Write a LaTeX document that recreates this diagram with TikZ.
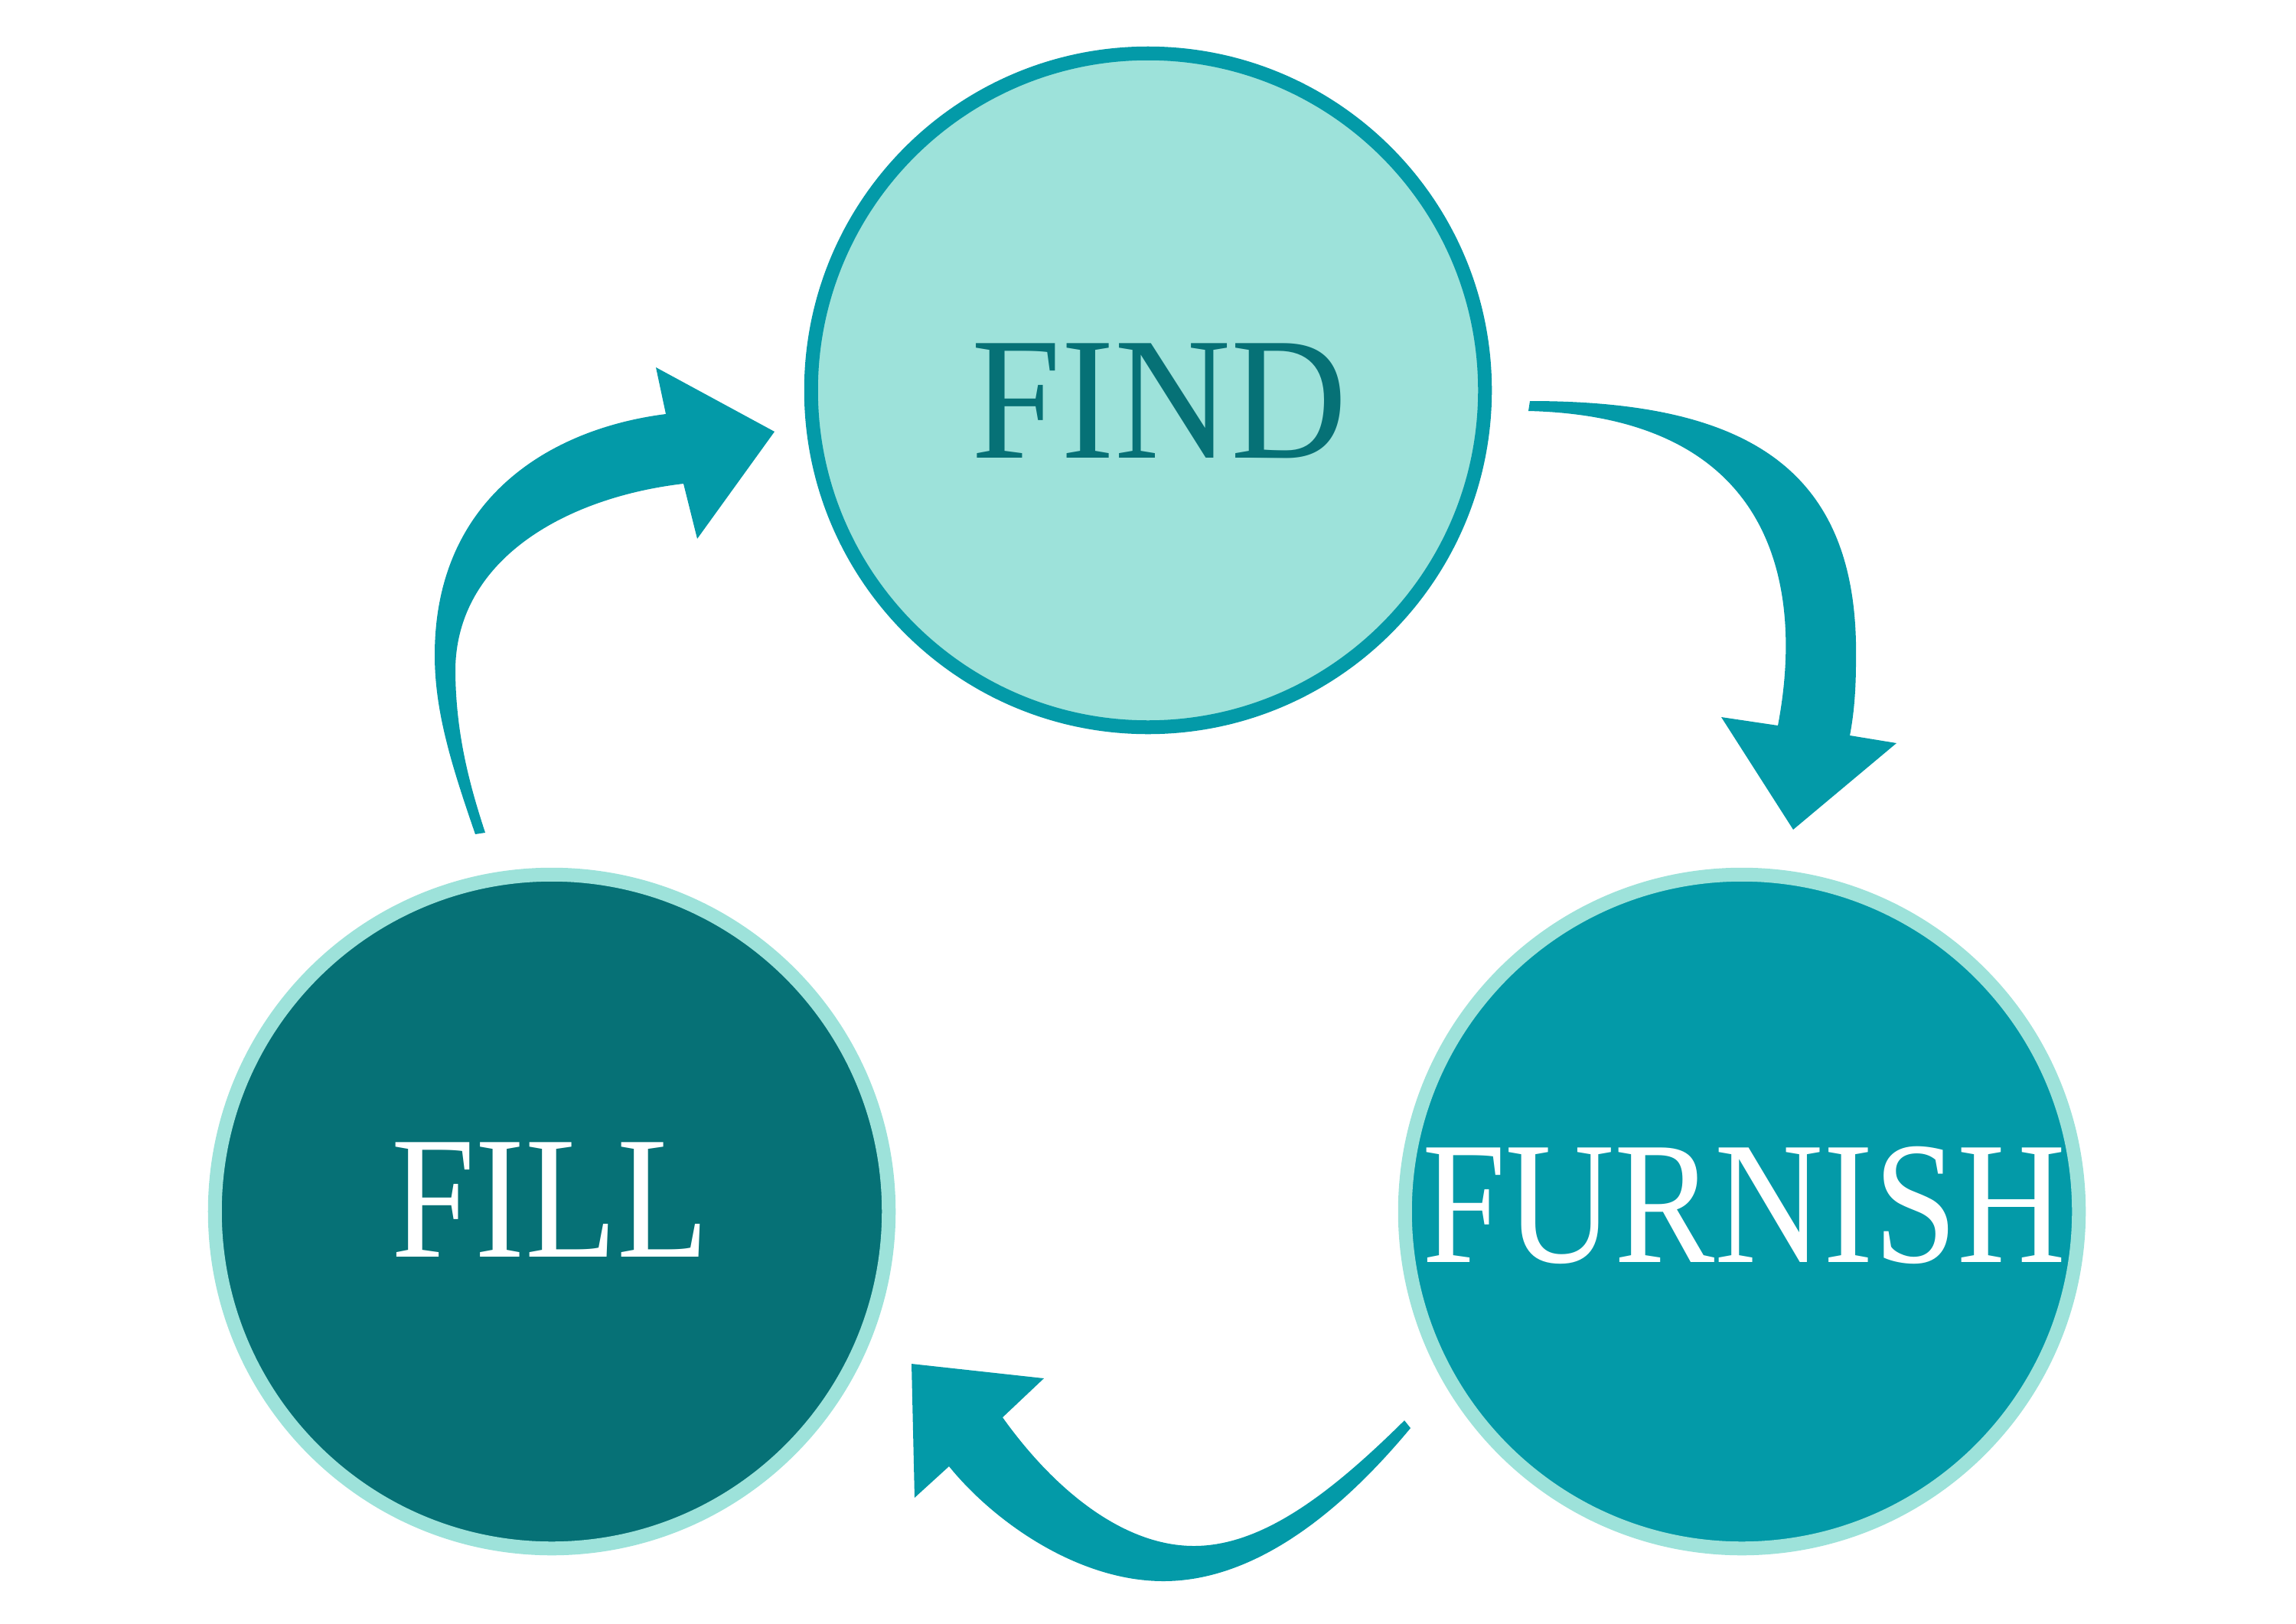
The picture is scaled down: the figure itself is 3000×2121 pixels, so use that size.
\documentclass[tikz,border=0pt]{standalone}
\usepackage{fontspec}
\usepackage{xcolor}
\newfontfamily\stagefont{Liberation Serif}[FakeStretch=0.86]
\newfontfamily\stagefontwide{Liberation Serif}[FakeStretch=0.92]
\definecolor{seafoam}{HTML}{9DE2DA}
\definecolor{lagoon}{HTML}{039AA8}
\definecolor{deepteal}{HTML}{067176}
\tikzset{
  stage/.style={circle, inner sep=0pt, minimum size=8.8cm, line width=0.18cm},
  stagetext/.style={anchor=base, inner sep=0pt, font=\stagefont\fontsize{65}{70}\selectfont},
  cyclearrow/.style={fill=lagoon},
}
\begin{document}
\begin{tikzpicture}[x=0.01cm, y=-0.01cm]
    \useasboundingbox (0,0) rectangle (3000,2121);
    \node[stage, draw=lagoon, fill=seafoam] (find) at (1500,510) {};
    \node[stage, draw=seafoam, fill=deepteal] (fill) at (721,1583) {};
    \node[stage, draw=seafoam, fill=lagoon] (furnish) at (2276,1583) {};
    \node[stagetext, text=deepteal, font=\stagefontwide\fontsize{65}{70}\selectfont] (findtext) at (1515,598) {FIND};
    \node[stagetext, text=white] (filltext) at (719,1642) {FILL};
    \node[stagetext, text=white] (furnishtext) at (2279,1649) {FURNISH};
    % arrow ends
    \coordinate (filltail) at (621,1090);
    \coordinate (findtip) at (1012,564);
    \coordinate (findtail) at (1999,524);
    \coordinate (furnishtip) at (2343,1084);
    \coordinate (furnishtail) at (1843,1866);
    \coordinate (filltip) at (1191,1782);
    % fill -> find
    \fill[cyclearrow] (filltail) .. controls (590,1000) and (568,930) .. (568,856)
      .. controls (568,650) and (720,560) .. (870,541)
      -- (857,480) -- (findtip) -- (911,704) -- (893,632)
      .. controls (740,650) and (597,730) .. (595,874)
      .. controls (595,960) and (615,1030) .. (634,1088) -- cycle;
    % find -> furnish
    \fill[cyclearrow] (findtail) .. controls (2280,524) and (2430,610) .. (2425,864)
      .. controls (2425,905) and (2422,935) .. (2417,961)
      -- (2478,971) -- (furnishtip) -- (2249,937) -- (2323,948)
      .. controls (2355,780) and (2330,545) .. (1997,537) -- cycle;
    % furnish -> fill
    \fill[cyclearrow] (furnishtail) .. controls (1740,1990) and (1630,2066) .. (1520,2066)
      .. controls (1410,2066) and (1300,1990) .. (1240,1916)
      -- (1195,1957) -- (filltip) -- (1364,1801) -- (1310,1852)
      .. controls (1380,1950) and (1470,2020) .. (1560,2020)
      .. controls (1650,2020) and (1740,1950) .. (1835,1856) -- cycle;
\end{tikzpicture}
\end{document}
